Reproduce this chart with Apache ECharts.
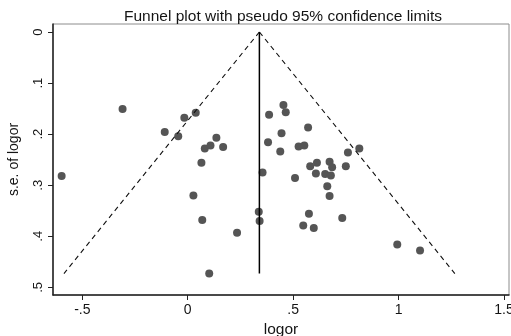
<!DOCTYPE html>
<html>
<head>
<meta charset="utf-8">
<script src="https://cdn.jsdelivr.net/npm/echarts@6/dist/echarts.min.js"></script>
<style>
  html, body { margin: 0; padding: 0; background: #fff; }
  #funnel { width: 511px; height: 336px; }
</style>
</head>
<body>
<div id="funnel"></div>
<script>
  // study estimates
  const logor = [-0.598, -0.309, -0.109, -0.045, -0.016, 0.038, 0.065, 0.027, 0.069, 0.102,
    0.081, 0.108, 0.136, 0.168, 0.234, 0.337, 0.341, 0.355, 0.381, 0.386,
    0.454, 0.465, 0.445, 0.439, 0.526, 0.553, 0.571, 0.509, 0.581, 0.613,
    0.673, 0.685, 0.750, 0.608, 0.652, 0.679, 0.662, 0.673, 0.575, 0.733,
    0.548, 0.598, 0.760, 0.814, 0.994, 1.102]
  const seLogor = [0.282, 0.151, 0.196, 0.204, 0.168, 0.158, 0.256, 0.320, 0.368, 0.473,
    0.228, 0.222, 0.207, 0.225, 0.393, 0.352, 0.370, 0.275, 0.216, 0.162,
    0.143, 0.157, 0.198, 0.234, 0.224, 0.222, 0.187, 0.286, 0.263, 0.256,
    0.254, 0.265, 0.263, 0.277, 0.278, 0.281, 0.302, 0.321, 0.356, 0.364,
    0.379, 0.384, 0.236, 0.228, 0.416, 0.428]

  // pooled estimate and pseudo 95% limits (end points)
  const pooledLine = [[0.34, 0], [0.34, 0.473]]
  const lowerLimit = [[0.34, 0], [-0.587, 0.473]]
  const upperLimit = [[0.34, 0], [1.267, 0.473]]

  const xTicks = [-0.5, 0, 0.5, 1, 1.5]
  const yTicks = [0, 0.1, 0.2, 0.3, 0.4, 0.5]

  const stataNum = v => {
    if (v === 0) return '0'
    return (v < 0 ? '-' : '') + String(Math.abs(v)).replace(/^0\./, '.')
  }

  const font = 'Liberation Sans'
  const ink = '#141414'
  const axisLine = { onZero: false, lineStyle: { color: '#222', width: 1.5 } }

  const option = {
    animation: false,
    title: {
      text: 'Funnel plot with pseudo 95% confidence limits',
      left: 278,
      textAlign: 'center',
      top: 4,
      textStyle: { fontFamily: font, fontSize: 15.5, fontWeight: 'normal', color: ink }
    },
    grid: {
      left: 53, right: 2, top: 24, bottom: 41,
      containLabel: false,
      outerBoundsMode: 'none',
      show: true, borderColor: '#8c8c8c', borderWidth: 1
    },
    xAxis: {
      type: 'value',
      min: -0.639,
      max: 1.524,
      splitLine: { show: false },
      axisLine: axisLine,
      axisTick: { customValues: xTicks, length: 5, lineStyle: { color: '#222', width: 1 } },
      axisLabel: {
        customValues: xTicks, formatter: stataNum, margin: 8,
        fontFamily: font, fontSize: 14, color: ink
      },
      name: 'logor',
      nameLocation: 'middle',
      nameGap: 26,
      nameTextStyle: { fontFamily: font, fontSize: 15.5, color: ink }
    },
    yAxis: {
      type: 'value',
      inverse: true,
      min: -0.0157,
      max: 0.515,
      splitLine: { show: false },
      axisLine: axisLine,
      axisTick: { customValues: yTicks, length: 5, lineStyle: { color: '#222', width: 1 } },
      axisLabel: {
        customValues: yTicks, formatter: stataNum, rotate: 90, margin: 8,
        fontFamily: font, fontSize: 13, color: ink
      },
      name: 's.e. of logor',
      nameLocation: 'middle',
      nameRotate: 90,
      nameGap: 32,
      nameTextStyle: { fontFamily: font, fontSize: 14, color: ink }
    },
    series: [
      {
        type: 'line', data: lowerLimit, symbol: 'none', silent: true,
        lineStyle: { color: '#111', width: 1.1, type: [5, 4] }
      },
      {
        type: 'line', data: upperLimit, symbol: 'none', silent: true,
        lineStyle: { color: '#111', width: 1.1, type: [5, 4] }
      },
      {
        type: 'line', data: pooledLine, symbol: 'none', silent: true,
        lineStyle: { color: '#000', width: 1.5 }
      },
      {
        type: 'scatter',
        symbol: 'circle',
        symbolSize: 8,
        itemStyle: { color: '#555', opacity: 1 },
        data: logor.map((v, i) => [v, seLogor[i]])
      }
    ]
  }

  const chart = echarts.init(document.getElementById('funnel'))
  chart.setOption(option)
</script>
</body>
</html>
